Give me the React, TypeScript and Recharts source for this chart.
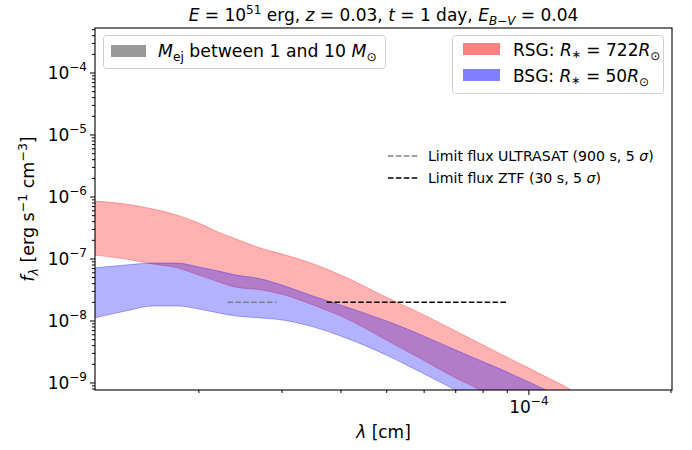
import React from "react";
import { ComposedChart, Area, Line, XAxis, YAxis } from "recharts";

// wavelength grid [cm]
const lambda = [1.2e-5, 1.4e-5, 1.6e-5, 1.8e-5, 2.0e-5, 2.2e-5, 2.4e-5, 2.7e-5, 3.0e-5, 3.5e-5, 4.0e-5, 5.0e-5, 6.0e-5, 7.0e-5, 8.0e-5, 9.0e-5, 1.0e-4, 1.1e-4, 1.2e-4, 1.3e-4];
// RSG band (R* = 722 Rsun), Mej between 1 and 10 Msun
const rsgUpper = [8.6e-7, 7.7e-7, 6.4e-7, 5.1e-7, 3.8e-7, 2.7e-7, 2.1e-7, 1.5e-7, 1.2e-7, 8.3e-8, 5.5e-8, 2.4e-8, 1.25e-8, 6.9e-9, 4.1e-9, 2.6e-9, 1.74e-9, 1.2e-9, 8.6e-10, 5.9e-10];
const rsgLower = [1.16e-7, 1.0e-7, 8.3e-8, 7.2e-8, 5.5e-8, 4.3e-8, 3.5e-8, 3.2e-8, 2.7e-8, 1.8e-8, 1.2e-8, 4.9e-9, 2.3e-9, 1.2e-9, 7.4e-10, 4.8e-10, 3.3e-10, 2.2e-10, 1.5e-10, 1.0e-10];
// BSG band (R* = 50 Rsun)
const bsgUpper = [7.2e-8, 8.0e-8, 8.6e-8, 8.6e-8, 7.4e-8, 6.4e-8, 5.5e-8, 4.8e-8, 3.8e-8, 2.5e-8, 1.8e-8, 1.0e-8, 5.7e-9, 3.4e-9, 2.2e-9, 1.5e-9, 1.04e-9, 7.4e-10, 5.3e-10, 3.7e-10];
const bsgLower = [1.12e-8, 1.45e-8, 1.75e-8, 1.75e-8, 1.56e-8, 1.35e-8, 1.2e-8, 1.12e-8, 1.04e-8, 8.0e-9, 5.7e-9, 2.8e-9, 1.4e-9, 7.7e-10, 4.6e-10, 3.0e-10, 2.0e-10, 1.4e-10, 1.0e-10, 7.0e-11];

// limit fluxes
const ultrasatLambda = [2.3e-5, 2.92e-5];
const ultrasatFlux = [2e-8, 2e-8];
const ztfLambda = [3.73e-5, 9.02e-5];
const ztfFlux = [2e-8, 2e-8];

// ticks
const xMajorTicks = [1e-4];
const xMinorTicks = [2e-5, 3e-5, 4e-5, 5e-5, 6e-5, 7e-5, 8e-5, 9e-5, 2e-4];
const yMajorTicks = [1e-9, 1e-8, 1e-7, 1e-6, 1e-5, 1e-4];
const yMinorMult = [2, 3, 4, 5, 6, 7, 8, 9];
const yMinorTicks = [8e-10, 9e-10, ...[1e-9, 1e-8, 1e-7, 1e-6, 1e-5].flatMap((d) => yMinorMult.map((m) => m * d)), 2e-4, 3e-4, 4e-4, 5e-4];

const X_DOMAIN = [1.205e-5, 2.01e-4];
const Y_DOMAIN = [7.71e-10, 5.32e-4];

const bandData = lambda.map((l, i) => ({
  lam: l,
  rsg: [rsgLower[i], rsgUpper[i]],
  bsg: [bsgLower[i], bsgUpper[i]],
}));
const ultrasatData = ultrasatLambda.map((l, i) => ({ lam: l, v: ultrasatFlux[i] }));
const ztfData = ztfLambda.map((l, i) => ({ lam: l, v: ztfFlux[i] }));

const FONT = "DejaVu Sans";
const isMajor = (v: number) => Math.abs(Math.log10(v) - Math.round(Math.log10(v))) < 1e-6;

const YTick = (props: any) => {
  const { x, y, payload } = props;
  const v = payload.value;
  const major = isMajor(v);
  const e = Math.round(Math.log10(v));
  const len = major ? 5 : 3;
  return (
    <g>
      <line x1={x - len} x2={x} y1={y} y2={y} stroke="#000" strokeWidth={1} />
      {major && (
        <text x={x - 8} y={y + 6} textAnchor="end" fontFamily={FONT} fontSize={17} fill="#000">
          10
          <tspan dy={-8} fontSize={12}>{"\u2212" + -e}</tspan>
        </text>
      )}
    </g>
  );
};

const XTick = (props: any) => {
  const { x, y, payload } = props;
  const v = payload.value;
  const major = isMajor(v);
  const e = Math.round(Math.log10(v));
  const len = major ? 5 : 3;
  return (
    <g>
      <line x1={x} x2={x} y1={y} y2={y + len} stroke="#000" strokeWidth={1} />
      {major && (
        <text x={x} y={y + 23} textAnchor="middle" fontFamily={FONT} fontSize={17} fill="#000">
          10
          <tspan dy={-8} fontSize={12}>{"\u2212" + -e}</tspan>
        </text>
      )}
    </g>
  );
};

const PL = 95, PT = 28, PR = 672, PB = 390;

export default function App() {
  const pre: React.CSSProperties = { whiteSpace: "pre" };
  return (
    <div style={{ position: "absolute", left: 0, top: 0, width: 692, height: 450, background: "#fff" }}>
      <ComposedChart width={692} height={450} data={bandData} margin={{ top: PT, right: 692 - PR, bottom: 0, left: 0 }}>
        <XAxis
          dataKey="lam"
          type="number"
          scale="log"
          domain={X_DOMAIN}
          allowDataOverflow
          ticks={[...xMinorTicks, ...xMajorTicks].sort((a, b) => a - b)}
          interval={0}
          tick={<XTick />}
          tickLine={false}
          axisLine={false}
          tickSize={0}
          tickMargin={0}
          height={450 - PB}
        />
        <YAxis
          type="number"
          scale="log"
          domain={Y_DOMAIN}
          allowDataOverflow
          ticks={[...yMinorTicks, ...yMajorTicks].sort((a, b) => a - b)}
          interval={0}
          tick={<YTick />}
          tickLine={false}
          axisLine={false}
          tickSize={0}
          tickMargin={0}
          width={PL}
        />
        <Area
          dataKey="rsg"
          type="monotone"
          fill="#ff0000"
          fillOpacity={0.3}
          stroke="#ff0000"
          strokeOpacity={0.3}
          strokeWidth={1}
          isAnimationActive={false}
          dot={false}
          activeDot={false}
        />
        <Area
          dataKey="bsg"
          type="monotone"
          fill="#0000ff"
          fillOpacity={0.3}
          stroke="#0000ff"
          strokeOpacity={0.3}
          strokeWidth={1}
          isAnimationActive={false}
          dot={false}
          activeDot={false}
        />
        <Line data={ultrasatData} dataKey="v" type="linear" stroke="#808080" strokeWidth={1.5} strokeDasharray="5.5 2.4" dot={false} activeDot={false} isAnimationActive={false} />
        <Line data={ztfData} dataKey="v" type="linear" stroke="#000000" strokeWidth={1.5} strokeDasharray="5.5 2.4" dot={false} activeDot={false} isAnimationActive={false} />
      </ComposedChart>

      <svg width={692} height={450} style={{ position: "absolute", left: 0, top: 0, pointerEvents: "none" }} fontFamily={FONT}>
        <rect x={PL} y={PT} width={PR - PL} height={PB - PT} fill="none" stroke="#000" strokeWidth={1.1} />

        {/* title */}
        <text x={(PL + PR) / 2} y={21} textAnchor="middle" fontSize={17} fill="#000" style={pre}>
          <tspan fontStyle="italic">E</tspan>
          <tspan>{" = 10"}</tspan>
          <tspan dy={-7.5} fontSize={12}>51</tspan>
          <tspan dy={7.5}>{" erg, "}</tspan>
          <tspan fontStyle="italic">z</tspan>
          <tspan>{" = 0.03, "}</tspan>
          <tspan fontStyle="italic">t</tspan>
          <tspan>{" = 1 day, "}</tspan>
          <tspan fontStyle="italic">E</tspan>
          <tspan dy={4} fontSize={12} fontStyle="italic">B</tspan>
          <tspan fontSize={12}>{"\u2212"}</tspan>
          <tspan fontSize={12} fontStyle="italic">V</tspan>
          <tspan dy={-4}>{" = 0.04"}</tspan>
        </text>

        {/* axis labels */}
        <text x={(PL + PR) / 2} y={438} textAnchor="middle" fontSize={17} fill="#000" style={pre}>
          <tspan fontStyle="italic">{"\u03bb"}</tspan>
          <tspan>{" [cm]"}</tspan>
        </text>
        <text transform={`translate(34, ${(PT + PB) / 2}) rotate(-90)`} textAnchor="middle" fontSize={17.5} fill="#000" style={pre}>
          <tspan fontStyle="italic">f</tspan>
          <tspan dy={4} fontSize={12.5} fontStyle="italic">{"\u03bb"}</tspan>
          <tspan dy={-4}>{" [erg s"}</tspan>
          <tspan dy={-7} fontSize={12.5}>{"\u22121"}</tspan>
          <tspan dy={7}>{" cm"}</tspan>
          <tspan dy={-7} fontSize={12.5}>{"\u22123"}</tspan>
          <tspan dy={7}>]</tspan>
        </text>

        {/* legend: Mej */}
        <rect x={103.5} y={35.5} width={282} height={33} rx={3} fill="#fff" fillOpacity={0.8} stroke="#d0d0d0" strokeWidth={1} />
        <rect x={111} y={45} width={35} height={12} fill="#999999" />
        <text x={158} y={57} fontSize={17.3} fill="#000" style={pre}>
          <tspan fontStyle="italic">M</tspan>
          <tspan dy={4} fontSize={12.2}>ej</tspan>
          <tspan dy={-4}>{" between 1 and 10 "}</tspan>
          <tspan fontStyle="italic">M</tspan>
          <tspan dy={4} fontSize={12.2}>{"\u2299"}</tspan>
        </text>

        {/* legend: RSG / BSG */}
        <rect x={452.5} y={35.5} width={211} height={58} rx={3} fill="#fff" fillOpacity={0.8} stroke="#d0d0d0" strokeWidth={1} />
        <rect x={463} y={43} width={37} height={12} fill="#ff8080" />
        <rect x={463} y={69} width={37} height={12} fill="#8080ff" />
        <text x={513} y={56} fontSize={17} fill="#000" style={pre}>
          <tspan>{"RSG: "}</tspan>
          <tspan fontStyle="italic">R</tspan>
          <tspan dy={2} fontSize={11}>{"\u2217"}</tspan>
          <tspan dy={-2}>{" = 722"}</tspan>
          <tspan fontStyle="italic">R</tspan>
          <tspan dy={4} fontSize={12}>{"\u2299"}</tspan>
        </text>
        <text x={513} y={82} fontSize={17} fill="#000" style={pre}>
          <tspan>{"BSG: "}</tspan>
          <tspan fontStyle="italic">R</tspan>
          <tspan dy={2} fontSize={11}>{"\u2217"}</tspan>
          <tspan dy={-2}>{" = 50"}</tspan>
          <tspan fontStyle="italic">R</tspan>
          <tspan dy={4} fontSize={12}>{"\u2299"}</tspan>
        </text>

        {/* legend: limit fluxes */}
        <line x1={388} x2={418} y1={156} y2={156} stroke="#808080" strokeWidth={1.5} strokeDasharray="5.5 2.4" />
        <line x1={388} x2={418} y1={178} y2={178} stroke="#000" strokeWidth={1.5} strokeDasharray="5.5 2.4" />
        <text x={428} y={161} fontSize={14.1} fill="#000" style={pre}>
          <tspan>{"Limit flux ULTRASAT (900 s, 5 "}</tspan>
          <tspan fontStyle="italic">{"\u03c3"}</tspan>
          <tspan>)</tspan>
        </text>
        <text x={428} y={183} fontSize={14.1} fill="#000" style={pre}>
          <tspan>{"Limit flux ZTF (30 s, 5 "}</tspan>
          <tspan fontStyle="italic">{"\u03c3"}</tspan>
          <tspan>)</tspan>
        </text>
      </svg>
    </div>
  );
}
